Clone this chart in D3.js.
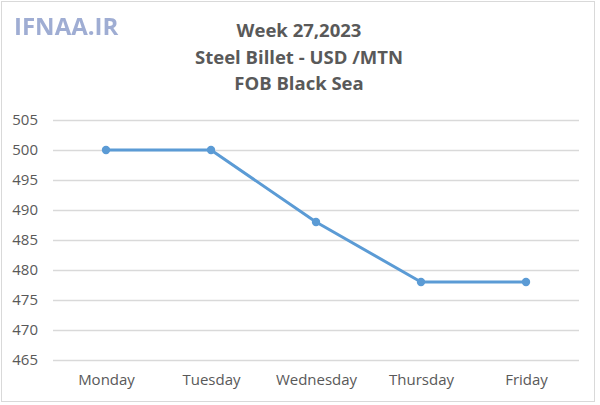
<!DOCTYPE html>
<html><head><meta charset="utf-8">
<script src="https://cdn.jsdelivr.net/npm/d3@7"></script>
<style>body{margin:0;background:#fff;}svg{display:block;}</style>
</head><body>
<script>
const days = ["Monday","Tuesday","Wednesday","Thursday","Friday"];
const prices = [500, 500, 488, 478, 478];
const yTicks = [465,470,475,480,485,490,495,500,505];
const titleLines = ["Week 27,2023","Steel Billet - USD /MTN","FOB Black Sea"];

const W = 600, H = 405;
const svg = d3.select("body").append("svg").attr("width", W).attr("height", H);
svg.append("rect").attr("x",1.5).attr("y",1.5).attr("width",593).attr("height",400)
  .attr("fill","#fff").attr("stroke","#d9d9d9").attr("stroke-width",1);

// watermark
svg.append("text").attr("x",14).attr("y",35).text("IFNAA.IR")
  .attr("font-family","Open Sans, sans-serif").attr("font-weight","bold")
  .attr("font-size",24).attr("fill","#8f9fcc").attr("opacity",0.85)
  .style("filter","blur(0.7px)");

// title
svg.append("g").selectAll("text").data(titleLines).join("text")
  .attr("x",299).attr("y",(d,i)=>37+i*26.5).attr("text-anchor","middle")
  .attr("font-family","Open Sans, sans-serif").attr("font-weight","bold")
  .attr("font-size",18.5).attr("fill","#595959").text(d=>d);

const x = d3.scalePoint().domain(days).range([106,526]);
const y = d3.scaleLinear().domain([465,505]).range([360,120]);

const gy = svg.append("g").attr("transform","translate(53,0)")
  .call(d3.axisLeft(y).tickValues(yTicks).tickSize(-526).tickPadding(15));
gy.select(".domain").remove();
gy.selectAll(".tick line").attr("stroke","#d9d9d9").attr("stroke-width",1.3);
gy.selectAll(".tick text").attr("font-family","Open Sans, sans-serif").attr("font-size",15).attr("fill","#595959");

const gx = svg.append("g").attr("transform","translate(0,360)")
  .call(d3.axisBottom(x).tickSize(0).tickPadding(14));
gx.select(".domain").remove();
gx.selectAll(".tick text").attr("font-family","Open Sans, sans-serif").attr("font-size",15).attr("fill","#595959");

const line = d3.line().x((d,i)=>x(days[i])).y(d=>y(d));
svg.append("path").datum(prices).attr("d",line).attr("fill","none")
  .attr("stroke","#5b9bd5").attr("stroke-width",3).attr("stroke-linejoin","round");
svg.append("g").selectAll("circle").data(prices).join("circle")
  .attr("cx",(d,i)=>x(days[i])).attr("cy",d=>y(d)).attr("r",4.2).attr("fill","#5b9bd5");
</script>
</body></html>
